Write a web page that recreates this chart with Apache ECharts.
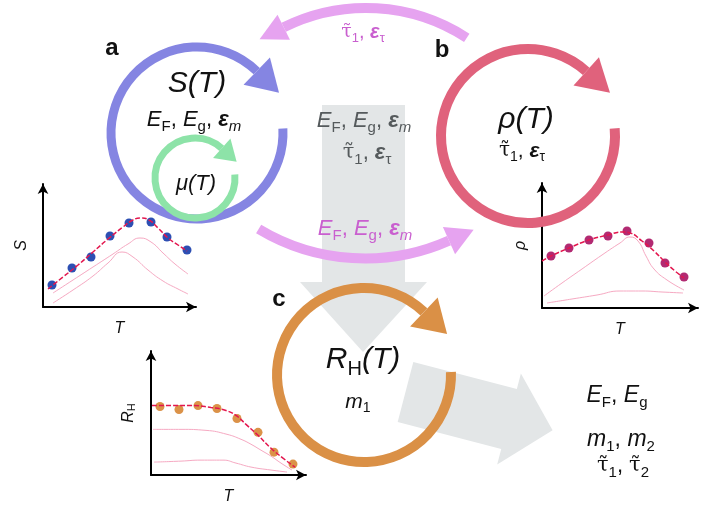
<!DOCTYPE html>
<html><head><meta charset="utf-8">
<script src="https://cdn.jsdelivr.net/npm/echarts@6/dist/echarts.min.js"></script>
<style>html,body{margin:0;padding:0;background:#fff}#c{width:723px;height:506px}</style>
</head><body><div id="c"></div>
<script>
// ---------- data (axis units) ----------
const sPoints = [[9,22],[29,39],[48,50],[67,71],[86,84],[108,85],[124,70],[144,57]];
const sFit    = [[5,18],[20,30],[35,42],[50,55],[65,68],[80,80],[90,87],[98,89],[106,87],[115,79],[125,69],[135,62],[144,56]];
const sPart1  = [[10,14],[30,27],[50,40],[70,53],[85,63],[97,69],[108,65],[120,54],[132,43],[145,33]];
const sPart2  = [[10,4],[30,17],[50,31],[65,44],[79,55],[90,50],[105,37],[120,26],[135,18],[145,13]];

const rPoints = [[9,52],[27,60],[47,68],[66,72],[85,77],[107,65],[123,45],[142,31]];
const rFit    = [[0,47],[9,52],[27,60],[47,68],[66,73],[80,76],[88,75],[100,67],[112,57],[123,46],[133,37],[142,30]];
const rPart1  = [[2,12],[20,25],[40,39],[60,53],[78,65],[88,71],[96,67],[104,52],[112,39],[125,28],[142,18]];
const rPart2  = [[5,5],[30,9],[55,13],[78,17],[100,17],[120,16],[141,15]];

const hPoints = [[9,69],[28,66],[47,70],[66,67],[86,57],[107,43],[123,23],[142,11]];
const hFit    = [[1,70],[20,70],[40,70],[60,68],[75,65],[85,60],[95,51],[107,40],[120,27],[132,17],[144,8]];
const hPart1  = [[2,46],[30,46],[55,45],[76,41],[90,36],[100,31],[110,25],[120,19],[130,12],[141,5]];
const hPart2  = [[3,13],[30,14],[50,15],[72,15],[85,12],[100,8],[120,5],[136,3]];

const yLabels = ['{i|S}','{i|ρ}','{i|R}{s|H}'];
const xName = 'T';

// ---------- styling ----------
const F = "'Liberation Sans', Arial, sans-serif";
const BLUE = '#8585e2', RED = '#e0627c', ORANGE = '#da9046', GREEN = '#8de3a8';
const PINK = '#e6a3f0', PINKTXT = '#c95fcf', GRAYBOX = '#e3e6e7', GRAYTXT = '#555a5c';
const D = Math.PI / 180;

function richStyles(size, color) {
  const sub = Math.round(size * 0.66);
  const lh = Math.round(size*1.25);
  return {
    i:  {fontStyle:'italic', fontSize:size, fontFamily:F, fill:color, lineHeight:lh},
    e:  {fontStyle:'italic', fontWeight:'bold', fontSize:size, fontFamily:F, fill:color, lineHeight:lh},
    n:  {fontSize:size, fontFamily:F, fill:color, lineHeight:lh},
    t:  {fontSize:Math.round(size*0.95), fontFamily:"'DejaVu Serif', serif", fill:color, lineHeight:lh},
    si: {fontStyle:'italic', fontSize:sub, fontFamily:F, fill:color, lineHeight:sub, verticalAlign:'bottom'},
    sn: {fontSize:sub, fontFamily:F, fill:color, lineHeight:sub, verticalAlign:'bottom'}
  };
}
function txt(x, y, str, size, color, z) {
  return {type:'text', x, y, z: z || 20, silent:true,
    style:{text:str, align:'center', verticalAlign:'middle', fill:color, font: size+'px '+F, rich:richStyles(size, color)}};
}
function ring(cx, cy, r, a0, a1, w, color, hw, hl, cw, z) {
  cw = cw !== false;
  const a = a1 * D, c = Math.cos(a), s = Math.sin(a);
  const px = cx + r*c, py = cy + r*s;
  const tx = cw ? -s : s, ty = cw ? c : -c;
  return [
    {type:'arc', z: z||5, silent:true, shape:{cx, cy, r, startAngle:a0*D, endAngle:a1*D, clockwise:cw},
     style:{stroke:color, lineWidth:w, fill:'none'}},
    {type:'polygon', z: z||5, silent:true, shape:{points:[[px + c*hw, py + s*hw],[px - c*hw, py - s*hw],[px + tx*hl, py + ty*hl]]},
     style:{fill:color}}
  ];
}
function blockArrow(x0, y0, angDeg, bodyHalf, headBase, headHalf, len, color) {
  const a = angDeg*D, ux = Math.cos(a), uy = Math.sin(a), nx = -uy, ny = ux;
  const P = (along, side) => [x0 + ux*along + nx*side, y0 + uy*along + ny*side];
  return {type:'polygon', z:1, silent:true, shape:{points:[
    P(0,-bodyHalf), P(headBase,-bodyHalf), P(headBase,-headHalf), P(len,0),
    P(headBase,headHalf), P(headBase,bodyHalf), P(0,bodyHalf)]}, style:{fill:color}};
}

const graphics = [];
graphics.push({type:'polygon', z:1, silent:true, shape:{points:[[322,105],[405,105],[405,282],[427,282],[363,352],[300,282],[322,282]]}, style:{fill:GRAYBOX}});
graphics.push(blockArrow(405.5, 392, 14.6, 31, 107, 47, 152, GRAYBOX));
graphics.push(...ring(197,133,86,-3,314,9,BLUE,19,31));
graphics.push(...ring(528,136,87,-5,312,10,RED,19,32));
graphics.push(...ring(364,375,87,-2,313.5,10,ORANGE,20,32));
graphics.push(...ring(195,178,40,-5,312,7,GREEN,13,20));
graphics.push(...ring(366,193,185,-57,-116.4,10,PINK,14,27,false));
graphics.push(...ring(365,52,206.5,121,66,10,PINK,15,27,false));

const TAU = '{t|τ\u0303}';
const EFGM = '{i|E}{sn|F}{n|, }{i|E}{sn|g}{n|, }{e|ε}{si|m}';
const T1ET = TAU + '{sn|1}{n|, }{e|ε}{sn|τ}';
graphics.push({type:'text', x:112, y:48, z:20, style:{text:'a', font:'bold 24px '+F, fill:'#111', align:'center', verticalAlign:'middle'}});
graphics.push({type:'text', x:442, y:50, z:20, style:{text:'b', font:'bold 24px '+F, fill:'#111', align:'center', verticalAlign:'middle'}});
graphics.push({type:'text', x:279, y:299, z:20, style:{text:'c', font:'bold 24px '+F, fill:'#111', align:'center', verticalAlign:'middle'}});

graphics.push(txt(197,84,'{i|S(T)}',30,'#111'));
graphics.push(txt(194,120,EFGM,22,'#111'));
graphics.push(txt(196,184,'{i|μ(T)}',22,'#111'));

graphics.push(txt(364,121,EFGM,22,GRAYTXT));
graphics.push(txt(367,153,T1ET,22,GRAYTXT));

graphics.push(txt(526,120,'{i|ρ(T)}',30,'#111'));
graphics.push(txt(522,151,T1ET,21,'#111'));

graphics.push(txt(363,32,T1ET,20,PINKTXT));
graphics.push(txt(365,229,EFGM,22,PINKTXT));

graphics.push(txt(363,360,'{i|R}{sn|H}{i|(T)}',30,'#111'));
graphics.push(txt(358,402,'{i|m}{sn|1}',21,'#111'));

graphics.push(txt(617,396,'{i|E}{sn|F}{n|, }{i|E}{sn|g}',23,'#111'));
graphics.push(txt(621,440,'{i|m}{sn|1}{n|, }{i|m}{sn|2}',23,'#111'));
graphics.push(txt(623,466,TAU+'{sn|1}{n|, }'+TAU+'{sn|2}',22,'#111'));

// ---------- mini charts ----------
const grids = [
  {left:43, top:184, width:153, height:123},
  {left:542, top:183, width:156, height:125},
  {left:151, top:351, width:155, height:125}
];
const axisLine = {show:true, lineStyle:{color:'#000', width:2}, symbol:['none','arrow'], symbolSize:[8,10]};
const xAxes = grids.map((g,i)=>({type:'value', gridIndex:i, min:0, max:g.width, axisLine,
  axisTick:{show:false}, axisLabel:{show:false}, splitLine:{show:false},
  name:xName, nameLocation:'middle', nameGap:14, nameTextStyle:{fontFamily:F, fontStyle:'italic', fontSize:16, color:'#111'}}));
const yNameRich = {
  i:{fontFamily:F, fontStyle:'italic', fontSize:16, color:'#111'},
  s:{fontFamily:F, fontStyle:'normal', fontSize:11, color:'#111', verticalAlign:'bottom', lineHeight:11}
};
const yAxes = grids.map((g,i)=>({type:'value', gridIndex:i, min:0, max:g.height, axisLine,
  axisTick:{show:false}, axisLabel:{show:false}, splitLine:{show:false},
  name:yLabels[i], nameLocation:'middle', nameGap:i===2?14:13, nameRotate:90,
  nameTextStyle:{fontFamily:F, fontStyle:'italic', fontSize:16, color:'#111', rich:yNameRich}}));

const FIT = '#e3164e', PART = '#f6a9c2';
const sets = [
  {pts:sPoints, fit:sFit, p1:sPart1, p2:sPart2, col:'#2d4fb3'},
  {pts:rPoints, fit:rFit, p1:rPart1, p2:rPart2, col:'#b22a72'},
  {pts:hPoints, fit:hFit, p1:hPart1, p2:hPart2, col:'#db9248'}
];
const series = [];
sets.forEach((s,i)=>{
  const line = (data, style, z) => ({type:'line', xAxisIndex:i, yAxisIndex:i, data, smooth:0.5, showSymbol:false, z, lineStyle:style, silent:true});
  series.push(line(s.p1, {color:PART, width:1}, 30));
  series.push(line(s.p2, {color:PART, width:1}, 30));
  series.push({type:'scatter', xAxisIndex:i, yAxisIndex:i, data:s.pts, symbolSize:9, itemStyle:{color:s.col, opacity:1}, z:31, silent:true});
  series.push(line(s.fit, {color:FIT, width:1.5, type:[5,2]}, 32));
});

const chart = echarts.init(document.getElementById('c'), null, {renderer:'canvas'});
chart.setOption({
  animation:false,
  backgroundColor:'#fff',
  grid:grids,
  xAxis:xAxes,
  yAxis:yAxes,
  series,
  graphic:{elements:graphics}
});
</script></body></html>
